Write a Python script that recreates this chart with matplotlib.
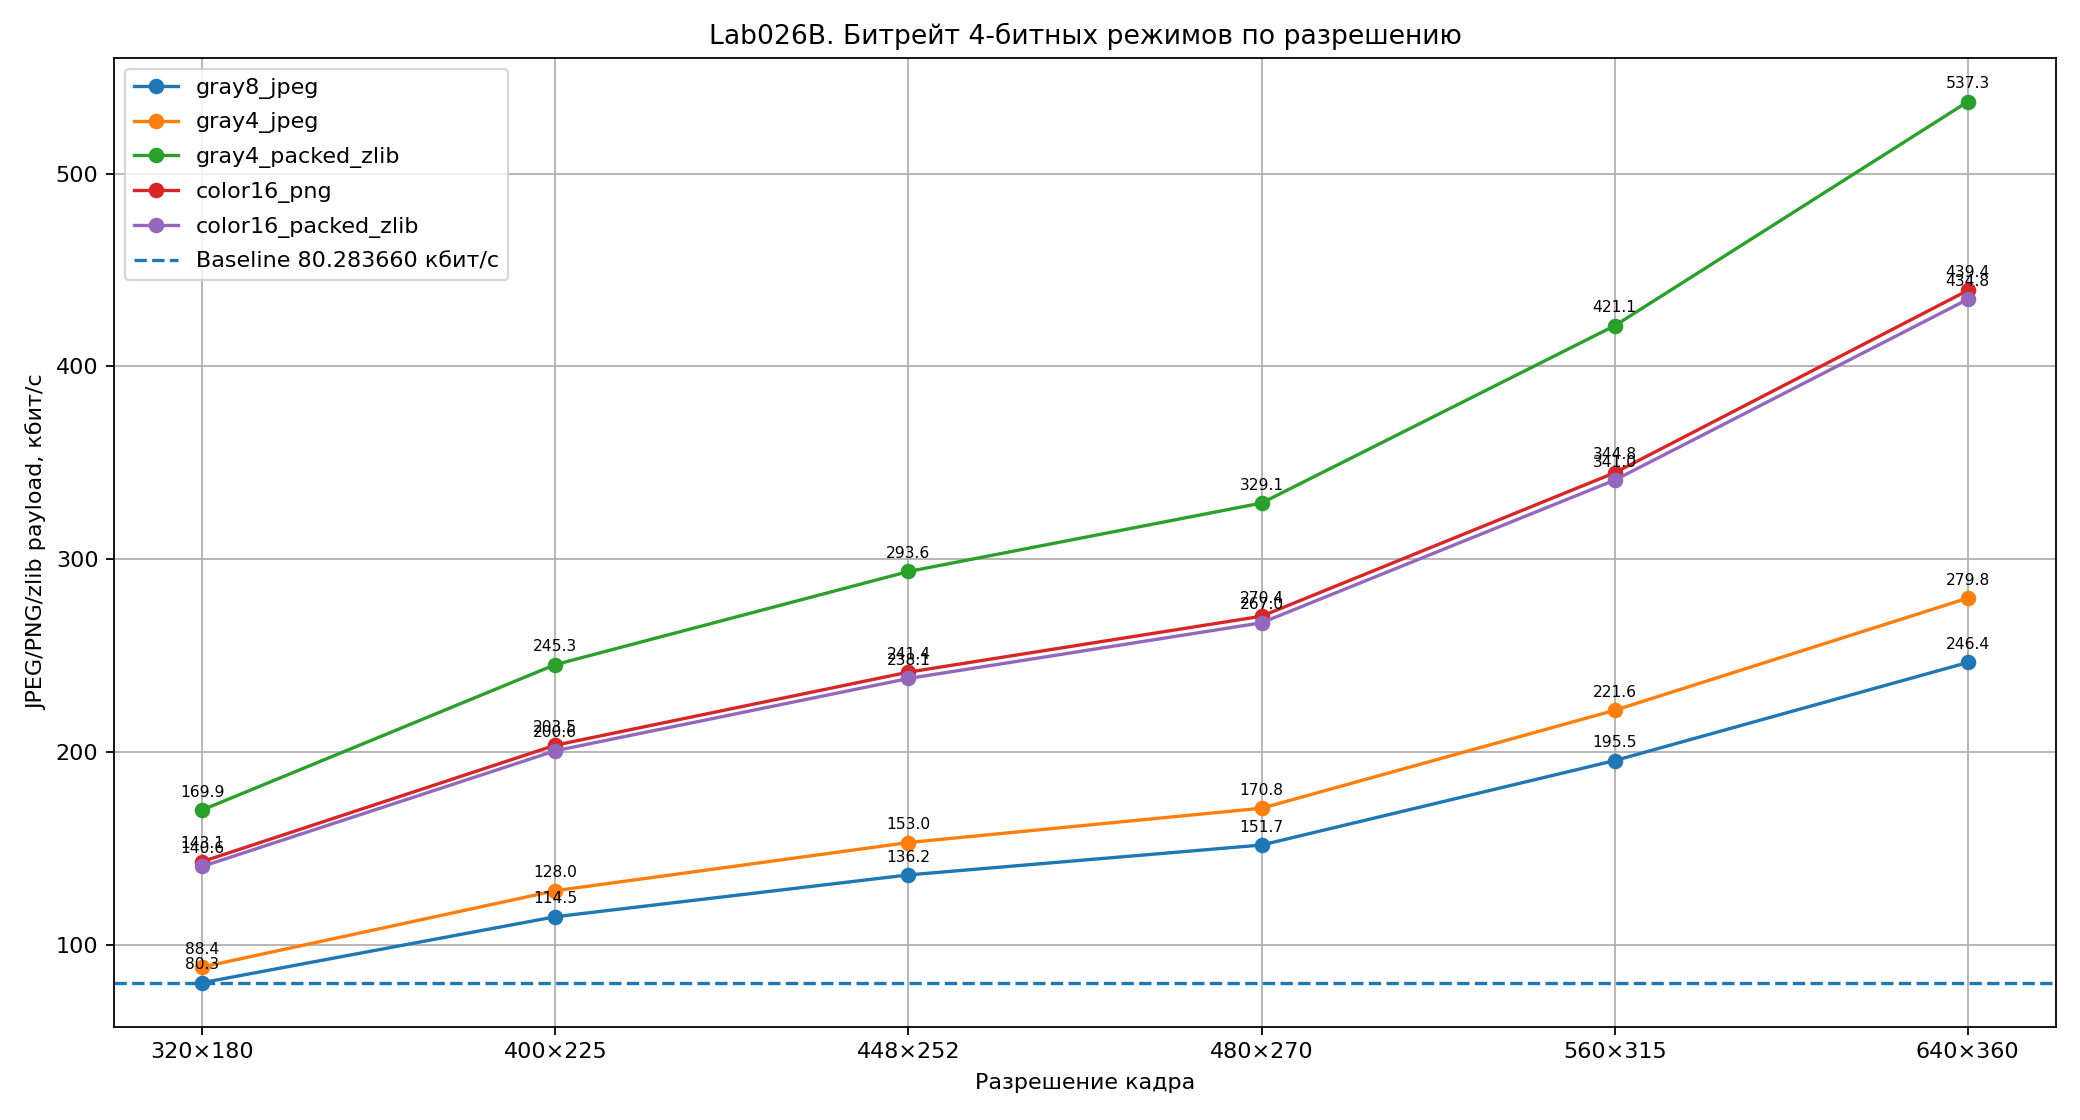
import matplotlib
matplotlib.use("Agg")
import matplotlib.pyplot as plt

resolutions = ["320×180", "400×225", "448×252", "480×270", "560×315", "640×360"]

gray8_jpeg = [80.3, 114.5, 136.2, 151.7, 195.5, 246.4]
gray4_jpeg = [88.4, 128.0, 153.0, 170.8, 221.6, 279.8]
gray4_packed_zlib = [169.9, 245.3, 293.6, 329.1, 421.1, 537.3]
color16_png = [143.1, 203.5, 241.4, 270.4, 344.8, 439.4]
color16_packed_zlib = [140.6, 200.6, 238.1, 267.0, 341.0, 434.8]

baseline = 80.283660

series = [
    ("gray8_jpeg", gray8_jpeg),
    ("gray4_jpeg", gray4_jpeg),
    ("gray4_packed_zlib", gray4_packed_zlib),
    ("color16_png", color16_png),
    ("color16_packed_zlib", color16_packed_zlib),
]

fig, ax = plt.subplots(figsize=(13, 7), dpi=160)
x = list(range(len(resolutions)))

for name, vals in series:
    ax.plot(x, vals, marker="o", label=name)
    for xi, v in zip(x, vals):
        ax.annotate(f"{v:.1f}", (xi, v), textcoords="offset points",
                    xytext=(0, 6), ha="center", fontsize=7)

ax.axhline(baseline, linestyle="--", color="C0",
           label=f"Baseline {baseline:.6f} кбит/с")

ax.set_xticks(x)
ax.set_xticklabels(resolutions)
ax.set_xlabel("Разрешение кадра", labelpad=5)
ax.set_ylabel("JPEG/PNG/zlib payload, кбит/с")
ax.set_title("Lab026B. Битрейт 4-битных режимов по разрешению")
ax.grid(True)
ax.legend(loc="upper left", labelspacing=0.62)

fig.subplots_adjust(left=0.0548, right=0.9885, top=0.9485, bottom=0.0833)
fig.savefig("out.png")
